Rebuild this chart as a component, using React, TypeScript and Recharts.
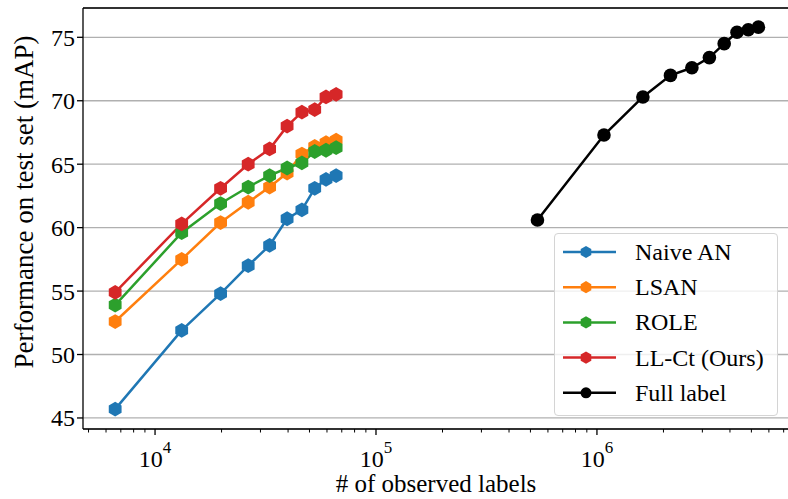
import { LineChart, Line, XAxis, YAxis, CartesianGrid, Legend, ReferenceLine } from "recharts";

// number of observed labels (x, log scale)
const partialLabelCounts = [6600, 13200, 19800, 26400, 33000, 39600, 46200, 52800, 59400, 66000];
const fullLabelCounts = [538000, 1076000, 1614000, 2152000, 2690000, 3228000, 3766000, 4304000, 4842000, 5380000];

// mAP values
const naiveAN = [45.7, 51.9, 54.8, 57.0, 58.6, 60.7, 61.4, 63.1, 63.8, 64.1];
const lsan = [52.6, 57.5, 60.4, 62.0, 63.2, 64.3, 65.8, 66.4, 66.7, 66.9];
const role = [53.9, 59.6, 61.9, 63.2, 64.1, 64.7, 65.1, 66.0, 66.1, 66.3];
const llCt = [54.9, 60.3, 63.1, 65.0, 66.2, 68.0, 69.1, 69.3, 70.3, 70.5];
const fullLabel = [60.6, 67.3, 70.3, 72.0, 72.6, 73.4, 74.5, 75.4, 75.6, 75.8];

const majorTicks = [1e4, 1e5, 1e6];
const minorTicks = [
  5000, 6000, 7000, 8000, 9000,
  20000, 30000, 40000, 50000, 60000, 70000, 80000, 90000,
  200000, 300000, 400000, 500000, 600000, 700000, 800000, 900000,
  2e6, 3e6, 4e6, 5e6, 6e6, 7e6,
];
const yTicks = [45, 50, 55, 60, 65, 70, 75];

const X_DOMAIN: [number, number] = [4720, 7.4e6];
const Y_DOMAIN: [number, number] = [44.13, 77.31];

const FONT = '"Liberation Serif", "Times New Roman", serif';

const series = [
  { name: "Naive AN", color: "#1f77b4", xs: partialLabelCounts, ys: naiveAN, marker: "hex" },
  { name: "LSAN", color: "#ff7f0e", xs: partialLabelCounts, ys: lsan, marker: "hex" },
  { name: "ROLE", color: "#2ca02c", xs: partialLabelCounts, ys: role, marker: "hex" },
  { name: "LL-Ct (Ours)", color: "#d62728", xs: partialLabelCounts, ys: llCt, marker: "hex" },
  { name: "Full label", color: "#000000", xs: fullLabelCounts, ys: fullLabel, marker: "circle" },
];

function hexPoints(cx: number, cy: number, r: number) {
  const pts = [];
  for (let i = 0; i < 6; i++) {
    const a = ((-90 + 60 * i) * Math.PI) / 180;
    pts.push(`${cx + r * Math.cos(a)},${cy + r * Math.sin(a)}`);
  }
  return pts.join(" ");
}

function Marker({ cx, cy, color, marker, r }: any) {
  if (marker === "circle") return <circle cx={cx} cy={cy} r={r} fill={color} />;
  return <polygon points={hexPoints(cx, cy, r + 0.6)} fill={color} />;
}

function makeDot(color: string, marker: string) {
  return (props: any) => (
    <Marker key={`${color}-${props.index}`} cx={props.cx} cy={props.cy} color={color} marker={marker} r={6.8} />
  );
}

function XTick({ x, y, payload }: any) {
  const v = payload.value;
  const major = majorTicks.includes(v);
  return (
    <g>
      <line x1={x} x2={x} y1={y} y2={y + (major ? 6 : 3.5)} stroke="#000" strokeWidth={major ? 1.3 : 1} />
      {major && (
        <text x={x} y={y + 38} textAnchor="middle" fontFamily={FONT} fontSize={24} fill="#000">
          <tspan>10</tspan>
          <tspan dy={-14} fontSize={17}>{Math.round(Math.log10(v))}</tspan>
        </text>
      )}
    </g>
  );
}

function LegendBox() {
  return (
    <div
      style={{
        width: 224,
        height: 183,
        boxSizing: "border-box",
        border: "1px solid #d4d4d4",
        borderRadius: 4,
        background: "rgba(255,255,255,0.8)",
      }}
    >
      <svg width={222} height={181} style={{ display: "block" }}>
        {series.map((s, i) => {
          const cy = 18 + i * 35.2;
          return (
            <g key={s.name}>
              <line x1={8} x2={61} y1={cy} y2={cy} stroke={s.color} strokeWidth={2.5} />
              <Marker cx={31} cy={cy} color={s.color} marker={s.marker} r={5.5} />
              <text x={80} y={cy + 8} fontFamily={FONT} fontSize={24} fill="#000">
                {s.name}
              </text>
            </g>
          );
        })}
      </svg>
    </div>
  );
}

export default function App() {
  return (
    <div style={{ position: "absolute", left: 0, top: 0, width: 800, height: 499, background: "#fff" }}>
      <LineChart width={800} height={499} margin={{ top: 8, right: 11, bottom: 0, left: 0 }}>
        <CartesianGrid vertical={false} stroke="#b0b0b0" strokeWidth={1.3} />
        <XAxis
          type="number"
          dataKey="x"
          scale="log"
          domain={X_DOMAIN}
          allowDataOverflow
          ticks={[...majorTicks, ...minorTicks]}
          interval={0}
          tick={<XTick />}
          tickLine={false}
          tickSize={0}
          tickMargin={0}
          height={70}
          axisLine={{ stroke: "#000", strokeWidth: 1.3 }}
          label={{
            content: ({ viewBox }: any) => (
              <text
                x={viewBox.x + viewBox.width / 2}
                y={492}
                textAnchor="middle"
                fontFamily={FONT}
                fontSize={25}
                fill="#000"
              >
                # of observed labels
              </text>
            ),
          }}
        />
        <YAxis
          type="number"
          domain={Y_DOMAIN}
          allowDataOverflow
          ticks={yTicks}
          width={83}
          tickSize={6}
          tickMargin={2}
          tick={{ fontFamily: FONT, fontSize: 24, fill: "#000" }}
          tickLine={{ stroke: "#000", strokeWidth: 1.3 }}
          axisLine={{ stroke: "#000", strokeWidth: 1.3 }}
          label={{
            content: () => (
              <text
                x={0}
                y={0}
                transform="translate(33, 202) rotate(-90)"
                textAnchor="middle"
                fontFamily={FONT}
                fontSize={27}
                fill="#000"
              >
                Performance on test set (mAP)
              </text>
            ),
          }}
        />
        <ReferenceLine y={Y_DOMAIN[1]} stroke="#000" strokeWidth={1.3} />
        {series.map((s) => (
          <Line
            key={s.name}
            data={s.xs.map((x, i) => ({ x, y: s.ys[i] }))}
            dataKey="y"
            name={s.name}
            stroke={s.color}
            strokeWidth={2.5}
            dot={makeDot(s.color, s.marker)}
            activeDot={false}
            isAnimationActive={false}
          />
        ))}
        <Legend
          layout="horizontal"
          verticalAlign="middle"
          align="center"
          content={() => <LegendBox />}
          wrapperStyle={{ position: "absolute", left: 554, top: 233, width: 224, height: 183 }}
        />
      </LineChart>
    </div>
  );
}
